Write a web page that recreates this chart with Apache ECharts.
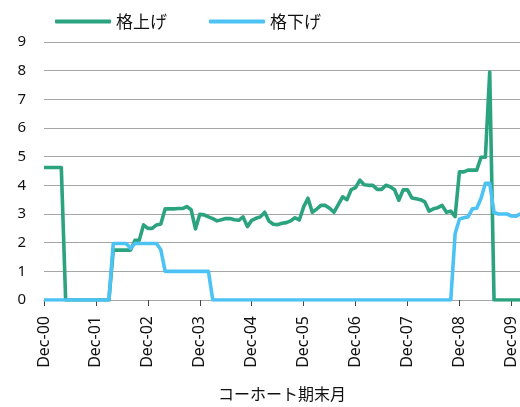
<!DOCTYPE html>
<html>
<head>
<meta charset="utf-8">
<script src="https://cdn.jsdelivr.net/npm/echarts@6/dist/echarts.min.js"></script>
<style>
html,body{margin:0;padding:0;background:#fff;}
#chart{width:520px;height:407px;}
</style>
</head>
<body>
<div id="chart"></div>
<script>
const categories = [
"Dec-00",
"Jan-01","Feb-01","Mar-01","Apr-01","May-01","Jun-01","Jul-01","Aug-01","Sep-01","Oct-01","Nov-01","Dec-01",
"Jan-02","Feb-02","Mar-02","Apr-02","May-02","Jun-02","Jul-02","Aug-02","Sep-02","Oct-02","Nov-02","Dec-02",
"Jan-03","Feb-03","Mar-03","Apr-03","May-03","Jun-03","Jul-03","Aug-03","Sep-03","Oct-03","Nov-03","Dec-03",
"Jan-04","Feb-04","Mar-04","Apr-04","May-04","Jun-04","Jul-04","Aug-04","Sep-04","Oct-04","Nov-04","Dec-04",
"Jan-05","Feb-05","Mar-05","Apr-05","May-05","Jun-05","Jul-05","Aug-05","Sep-05","Oct-05","Nov-05","Dec-05",
"Jan-06","Feb-06","Mar-06","Apr-06","May-06","Jun-06","Jul-06","Aug-06","Sep-06","Oct-06","Nov-06","Dec-06",
"Jan-07","Feb-07","Mar-07","Apr-07","May-07","Jun-07","Jul-07","Aug-07","Sep-07","Oct-07","Nov-07","Dec-07",
"Jan-08","Feb-08","Mar-08","Apr-08","May-08","Jun-08","Jul-08","Aug-08","Sep-08","Oct-08","Nov-08","Dec-08",
"Jan-09","Feb-09","Mar-09","Apr-09","May-09","Jun-09","Jul-09","Aug-09","Sep-09","Oct-09","Nov-09","Dec-09",
"Jan-10","Feb-10"
];

const upgrades = [
4.62,4.62,4.62,4.62,4.62,
0,0,0,0,0,0,0,0,0,0,0,
1.74,1.74,1.74,1.74,1.74,2.08,2.08,2.62,2.5,2.5,2.62,2.65,
3.18,3.18,3.18,3.19,3.19,3.26,3.15,2.48,2.99,2.97,2.9,2.84,
2.76,2.8,2.84,2.84,2.8,2.78,2.9,2.56,2.78,2.85,2.9,3.06,
2.75,2.64,2.63,2.68,2.7,2.76,2.87,2.79,3.25,3.55,3.06,3.17,
3.3,3.3,3.2,3.06,3.33,3.6,3.5,3.85,3.92,4.18,4.02,4.0,
4.0,3.86,3.86,4.0,3.95,3.85,3.48,3.84,3.84,3.56,3.53,3.5,
3.42,3.1,3.18,3.22,3.3,3.06,3.1,2.91,4.47,4.47,4.53,4.53,
4.53,4.98,4.98,7.95,
0,0,0,0,0,0,0
];

const downgrades = [
0,0,0,0,0,0,0,0,0,0,0,0,0,0,0,0,
1.97,1.97,1.97,1.97,1.8,1.97,1.97,1.97,1.97,1.97,1.97,1.75,
1,1,1,1,1,1,1,1,1,1,1,
0,0,0,0,0,0,0,0,0,0,0,0,0,0,0,0,0,0,0,0,0,0,0,0,0,0,0,0,0,0,0,
0,0,0,0,0,0,0,0,0,0,0,0,0,0,0,0,0,0,0,0,0,0,0,0,0,
2.31,2.82,2.87,2.9,3.18,3.2,3.55,4.07,4.07,3.05,3.0,3.0,3.0,2.93,2.92,3.0,3.02
];

const yTicks = { min: 0, max: 9, interval: 1 };
const seriesNames = ["格上げ", "格下げ"];
const xAxisTitle = "コーホート期末月";

const FONT = '"Noto Sans", "Noto Sans CJK JP", sans-serif';
const CJK = '"Noto Sans CJK JP", sans-serif';
const chart = echarts.init(document.getElementById('chart'), null, {renderer: 'canvas'});
chart.setOption({
  animation: false,
  backgroundColor: '#ffffff',
  textStyle: { fontFamily: FONT },
  legend: {
    top: 8,
    left: 50,
    itemWidth: 56,
    itemHeight: 4,
    itemGap: 42,
    icon: 'roundRect',
    textStyle: { fontSize: 17, color: '#111', fontFamily: CJK },
    data: seriesNames
  },
  grid: { left: 44, top: 42, height: 264, width: 481, containLabel: false },
  xAxis: {
    type: 'category',
    data: categories,
    boundaryGap: false,
    name: xAxisTitle,
    nameLocation: 'middle',
    nameGap: 86,
    nameTextStyle: { fontSize: 16, color: '#111', fontFamily: CJK },
    axisLine: { show: true, lineStyle: { color: '#a6a6a6', width: 1 } },
    axisTick: { show: true, interval: 11, length: 6, lineStyle: { color: '#444' } },
    axisLabel: { interval: 11, rotate: 90, margin: 16, fontSize: 16, color: '#111', fontFamily: FONT },
    splitLine: { show: false }
  },
  yAxis: {
    type: 'value',
    min: yTicks.min,
    max: yTicks.max,
    interval: yTicks.interval,
    axisLine: { show: false },
    axisTick: { show: false },
    axisLabel: { margin: 18, fontSize: 15, color: '#111', fontFamily: FONT },
    splitLine: { show: true, lineStyle: { color: '#a6a6a6', width: 1 } }
  },
  series: [
    {
      name: seriesNames[0],
      type: 'line',
      data: upgrades,
      showSymbol: false,
      symbol: 'none',
      lineStyle: { color: '#2ba37f', width: 3.6, join: 'round' },
      itemStyle: { color: '#2ba37f' }
    },
    {
      name: seriesNames[1],
      type: 'line',
      data: downgrades,
      showSymbol: false,
      symbol: 'none',
      lineStyle: { color: '#4cc2f5', width: 3.6, join: 'round' },
      itemStyle: { color: '#4cc2f5' }
    }
  ]
});
</script>
</body>
</html>
